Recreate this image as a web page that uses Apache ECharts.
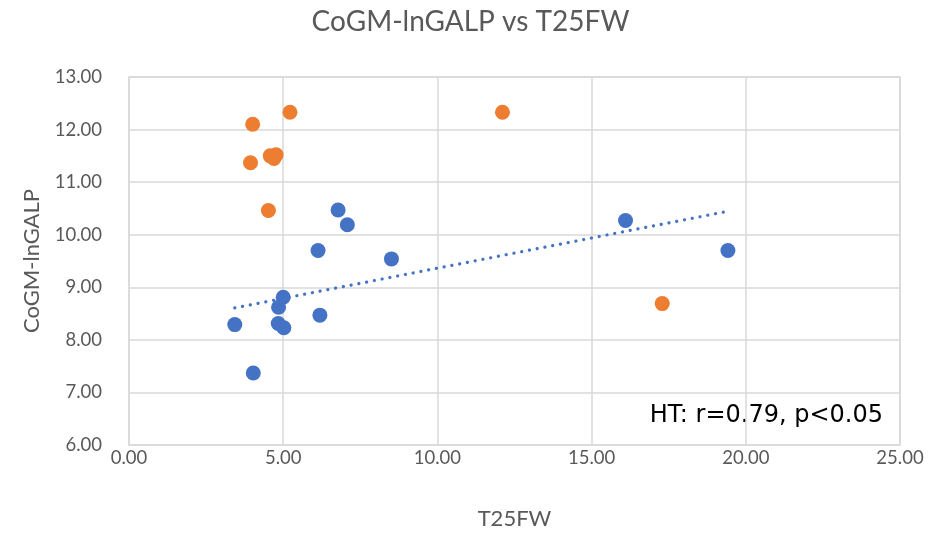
<!DOCTYPE html>
<html>
<head>
<meta charset="utf-8">
<script src="https://cdn.jsdelivr.net/npm/echarts@6/dist/echarts.min.js"></script>
<style>html,body{margin:0;padding:0;background:#fff}#c{width:941px;height:535px}</style>
</head>
<body>
<div id="c"></div>
<script>
// Blue series (with linear trendline)
const blueX = [6.78, 7.08, 6.13, 8.51, 5.00, 4.85, 3.43, 4.84, 5.02, 6.19, 4.03, 16.10, 19.42];
const blueY = [10.47, 10.19, 9.70, 9.54, 8.81, 8.62, 8.29, 8.31, 8.23, 8.47, 7.37, 10.27, 9.70];
// Orange series
const orangeX = [5.22, 4.01, 4.58, 4.77, 4.70, 3.94, 4.52, 12.11, 17.29];
const orangeY = [12.33, 12.10, 11.50, 11.52, 11.45, 11.37, 10.46, 12.33, 8.69];

const titleText = 'CoGM-lnGALP vs T25FW';
const xName = 'T25FW';
const yName = 'CoGM-lnGALP';
const note = 'HT: r=0.79, p<0.05';

function zip(a, b) { return a.map((v, i) => [v, b[i]]); }
function fit(xs, ys) {
  const n = xs.length;
  const mx = xs.reduce((s, v) => s + v, 0) / n;
  const my = ys.reduce((s, v) => s + v, 0) / n;
  let sxy = 0, sxx = 0;
  for (let i = 0; i < n; i++) { sxy += (xs[i] - mx) * (ys[i] - my); sxx += (xs[i] - mx) ** 2; }
  const b = sxy / sxx, a = my - b * mx;
  const x0 = Math.min(...xs), x1 = Math.max(...xs);
  return [[x0, a + b * x0], [x1, a + b * x1]];
}

const chart = echarts.init(document.getElementById('c'));
const font = 'Lato, "Open Sans", sans-serif';
const grey = '#595959';
chart.setOption({
  animation: false,
  title: { text: titleText, left: 'center', top: 3,
    textStyle: { fontFamily: font, fontSize: 28, fontWeight: 'normal', color: grey } },
  grid: { left: 129, right: 41, top: 77, bottom: 89, show: true, borderColor: '#d9d9d9', borderWidth: 1.5 },
  xAxis: {
    type: 'value', min: 0, max: 25, interval: 5,
    name: xName, nameLocation: 'middle', nameGap: 63,
    nameTextStyle: { fontFamily: font, fontSize: 22, color: grey },
    axisLine: { show: false }, axisTick: { show: false },
    axisLabel: { fontFamily: font, fontSize: 18.5, color: grey, margin: 4, formatter: v => v.toFixed(2) },
    splitLine: { lineStyle: { color: '#d9d9d9', width: 1.5 } }
  },
  yAxis: {
    type: 'value', min: 6, max: 13, interval: 1,
    name: yName, nameLocation: 'middle', nameGap: 86,
    nameTextStyle: { fontFamily: font, fontSize: 22, color: grey },
    axisLine: { show: false }, axisTick: { show: false },
    axisLabel: { fontFamily: font, fontSize: 18.5, color: grey, margin: 27, formatter: v => v.toFixed(2) },
    splitLine: { lineStyle: { color: '#d9d9d9', width: 1.5 } }
  },
  graphic: [{
    type: 'text', right: 58, top: 404,
    style: { text: note, fontFamily: '"DejaVu Sans", sans-serif', fontSize: 24, fill: '#000' }
  }],
  series: [
    { type: 'scatter', data: zip(orangeX, orangeY), symbolSize: 15,
      itemStyle: { color: '#ED7D31', opacity: 1 }, z: 3 },
    { type: 'scatter', data: zip(blueX, blueY), symbolSize: 15,
      itemStyle: { color: '#4472C4', opacity: 1 }, z: 3 },
    { type: 'line', data: fit(blueX, blueY), symbol: 'none', z: 2,
      lineStyle: { color: '#4472C4', width: 3.2, type: [0.1, 7.8], cap: 'round' } }
  ]
});
</script>
</body>
</html>
